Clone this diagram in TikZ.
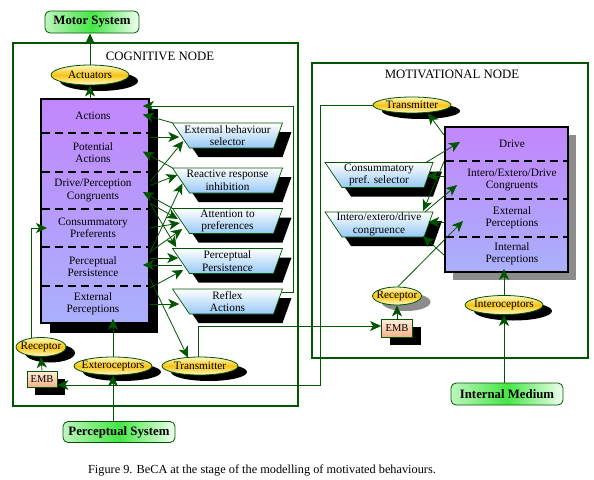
\documentclass[tikz,border=0pt]{standalone}
\usepackage{fontspec}
\setmainfont{Liberation Serif}
\usetikzlibrary{shapes.geometric,arrows.meta,shadows,calc}
\definecolor{dkgreen}{RGB}{0,85,0}
\definecolor{ptop}{RGB}{194,134,252}
\definecolor{pbot}{RGB}{170,176,252}
\definecolor{tblue}{RGB}{150,200,245}
\definecolor{ylight}{RGB}{255,250,200}
\definecolor{ydark}{RGB}{248,196,20}
\definecolor{etop}{RGB}{255,238,220}
\definecolor{ebot}{RGB}{245,178,135}
\definecolor{gleft}{RGB}{190,245,190}
\definecolor{gmid}{RGB}{70,230,70}
\definecolor{gright}{RGB}{240,255,240}
\newcommand\flab{\fontsize{11.3}{12.5}\selectfont}
\newcommand\fttl{\fontsize{12.8}{14}\selectfont}
\newcommand\zw[1]{\makebox[0pt]{#1}}
\newcommand\traprim[3]{%
  \begin{scope}[shift={(#1,#2)}]
    \fill[black] ({-#3+9},-3.5) -- ({#3+9},-3.5) -- ({#3},21.5) -- ({-#3+26},21.5) -- cycle;
    \shade[top color=white,bottom color=tblue,draw=dkgreen,line width=0.7pt]
      ({-#3},-12.5) -- ({#3},-12.5) -- ({#3-9},12.5) -- ({-#3+17},12.5) -- cycle;
  \end{scope}}
\begin{document}
\begin{tikzpicture}[x=1pt,y=-1pt,
  conn/.style={draw=dkgreen,line width=0.8pt,-{Stealth[length=11pt,width=10pt,inset=3pt]}},
  frame/.style={draw=dkgreen,line width=2pt,inner sep=0pt,anchor=north west},
  stackbox/.style={draw=black,line width=1.8pt,top color=ptop,bottom color=pbot,inner sep=0pt,anchor=north west},
  sect/.style={inner sep=0pt,align=center,font=\flab},
  sepline/.style={draw=black,line width=2pt,dash pattern=on 8pt off 5pt},
  traptext/.style={inner sep=0pt,minimum height=25pt,align=center,font=\flab},
  elli/.style={ellipse,draw=dkgreen,line width=0.8pt,top color=ylight,bottom color=ylight,middle color=ydark,inner sep=0pt,font=\flab},
  bshadow/.style={drop shadow={shadow xshift=9pt,shadow yshift=-6pt,fill=black,opacity=1}},
  gshadow/.style={drop shadow={shadow xshift=9pt,shadow yshift=-6pt,fill=black!45,opacity=1}},
  gbox/.style={rectangle,rounded corners=5pt,draw=dkgreen,line width=0.8pt,left color=gleft,right color=gright,middle color=gmid,inner sep=0pt,font=\fontsize{12.8}{14}\selectfont\bfseries},
  embbox/.style={rectangle,draw=dkgreen,line width=0.8pt,top color=etop,bottom color=ebot,inner sep=0pt,font=\fontsize{10.5}{12}\selectfont,drop shadow={shadow xshift=8pt,shadow yshift=-8pt,fill=black,opacity=1}}
]
\fill[white] (0,0) rectangle (594,479);
\useasboundingbox (0,0) rectangle (594,479);

% frames
\node[frame,minimum width=285pt,minimum height=363pt] (cogframe) at (12,42) {};
\node[frame,minimum width=276pt,minimum height=295pt] (motframe) at (311,62) {};
\node[font=\fttl] (cogtitle) at (160,56) {COGNITIVE NODE};
\node[font=\fttl] (mottitle) at (452,74) {MOTIVATIONAL NODE};

% external systems
\node[gbox,minimum width=94pt,minimum height=22pt] (motor) at (92,22) {Motor System};
\node[gbox,minimum width=112pt,minimum height=21pt] (psys) at (119,432) {Perceptual System};
\node[gbox,minimum width=112pt,minimum height=22pt] (intmed) at (507,394) {Internal Medium};

% cognitive stack
\node[stackbox,minimum width=108pt,minimum height=224pt,drop shadow={shadow xshift=9pt,shadow yshift=-10pt,fill=black,opacity=1}] (cstack) at (40,98) {};
\node[sect,minimum width=108pt,minimum height=35pt] (act) at (93,115.5) {Actions};
\node[sect,minimum width=108pt,minimum height=39pt] (pot) at (93,152.5) {Potential\\Actions};
\node[sect,minimum width=108pt,minimum height=37pt] (dpc) at (93,190.5) {Drive/Perception\\Congruents};
\node[sect,minimum width=108pt,minimum height=38pt] (cpr) at (93,228) {Consummatory\\Preferents};
\node[sect,minimum width=108pt,minimum height=39pt] (pps) at (93,266.5) {Perceptual\\Persistence};
\node[sect,minimum width=108pt,minimum height=36pt] (epc) at (93,304) {External\\Perceptions};
\foreach \s in {act,pot,dpc,cpr,pps}
  \draw[sepline] ($(cstack.west |- \s.south)+(2,0)$) -- ($(cstack.east |- \s.south)+(-2,0)$);

% motivational stack
\node[stackbox,minimum width=123pt,minimum height=145pt,drop shadow={shadow xshift=8pt,shadow yshift=-8pt,fill=black!45,opacity=1}] (mstack) at (444,126) {};
\node[sect,minimum width=110pt,minimum height=35pt] (drv) at (512,143.5) {Drive};
\node[sect,minimum width=110pt,minimum height=38pt] (iedc) at (512,180) {Intero/Extero/Drive\\Congruents};
\node[sect,minimum width=110pt,minimum height=38pt] (mep) at (512,218) {External\\Perceptions};
\node[sect,minimum width=110pt,minimum height=34pt] (mip) at (512,254) {Internal\\Perceptions};
\foreach \s in {drv,iedc,mep}
  \draw[sepline] ($(mstack.west |- \s.south)+(2,0)$) -- ($(mstack.east |- \s.south)+(-2,0)$);

% trapezoids
\traprim{227.5}{135.5}{55}
\node[traptext,minimum width=110pt] (ebs) at (227.5,135.5) {External behaviour\\selector};
\traprim{227.5}{180.5}{55}
\node[traptext,minimum width=110pt] (rri) at (227.5,180.5) {Reactive response\\inhibition};
\traprim{227.5}{221}{55}
\node[traptext,minimum width=110pt] (atp) at (227.5,221) {Attention to\\preferences};
\traprim{227.5}{261}{55}
\node[traptext,minimum width=110pt] (ppe) at (227.5,261) {Perceptual\\Persistence};
\traprim{227.5}{301.5}{55}
\node[traptext,minimum width=110pt] (rfx) at (227.5,301.5) {Reflex\\Actions};
\traprim{379}{175}{54}
\node[traptext,minimum width=108pt] (cps) at (379,175) {Consummatory\\pref. selector};
\traprim{379}{224.5}{54}
\node[traptext,minimum width=108pt] (cgc) at (379,224.5) {Intero/extero/drive\\congruence};

% ellipses
\node[elli,bshadow,minimum width=78pt,minimum height=20pt] (actu) at (90,75) {\zw{Actuators}};
\node[elli,bshadow,minimum width=76pt,minimum height=18pt] (trm1) at (200,366) {\zw{Transmitter}};
\node[elli,bshadow,minimum width=78pt,minimum height=18pt] (ext) at (113,366) {\zw{Exteroceptors}};
\node[elli,bshadow,minimum width=50pt,minimum height=19pt] (rcp1) at (41,347) {\zw{Receptor}};
\node[elli,bshadow,minimum width=78pt,minimum height=16pt] (trm2) at (412,105) {\zw{Transmitter}};
\node[elli,gshadow,minimum width=49pt,minimum height=18pt] (rcp2) at (397,296) {\zw{Receptor}};
\node[elli,bshadow,minimum width=78pt,minimum height=19pt] (inter) at (504,305) {\zw{Interoceptors}};

% EMB boxes
\node[embbox,minimum width=30pt,minimum height=16pt] (emb1) at (42,379) {EMB};
\node[embbox,minimum width=31pt,minimum height=18pt] (emb2) at (397,328) {EMB};

% vertical system connectors
\draw[conn] (actu.south |- cstack.north) -- (actu.south);
\draw[conn] (actu.north) -- (actu.north |- motor.south);
\draw[conn] ($(rcp1.north)+(-10,1)$) |- ($(cstack.west |- cpr)+(7,0)$);
\draw[conn] (emb1.north) -- (rcp1.south);
\draw[conn] (ext.north) -- ($(ext.north |- cstack.south)+(0,-5)$);
\draw[conn] (ext.south |- psys.north) -- (ext.south);
\draw[conn] (emb2.north) -- (rcp2.south);
\draw[conn] (inter.north) -- ($(inter.north |- mstack.south)+(0,-4)$);
\draw[conn] (inter.south |- intmed.north) -- (inter.south);

% long routes
\draw[conn] (trm2.west) -- ++(-52,0) |- ($(emb1.east)+(0,6)$);
\draw[conn] ($(trm1.north)+(-2,0)$) |- ($(emb2.west)+(0,-2)$);

% cognitive connectors
\draw[conn] ($(rfx.north east)+(-1,4)$) -- ++(12,0) |- ($(cstack.east |- act)+(-7,-9.5)$);
\draw[conn] (ebs.north west) -- ($(cstack.east |- act)+(-7,-1)$);
\draw[conn] ($(cstack.east |- pot)+(0,-15.5)$) -- ($(ebs.west)+(7,1.5)$);
\draw[conn] ($(cstack.east |- dpc)+(0,-8.5)$) -- ($(ebs.west)+(11,5.5)$);
\draw[conn] (rri.north west) -- ($(cstack.east |- pot)+(-7,-1)$);
\draw[conn] ($(cstack.east |- dpc)+(0,-5)$) -- ($(rri.west)+(5,-5.5)$);
\draw[conn] ($(cstack.east |- pps)+(0,-13.5)$) -- ($(rri.west)+(10,3)$);
\draw[conn] (atp.north west) -- ($(cstack.east |- dpc)+(-7,1.5)$);
\draw[conn] ($(cstack.east |- dpc)+(0,12.5)$) -- ($(atp.west)+(5.5,-2)$);
\draw[conn] (cstack.east |- cpr) -- ($(atp.west)+(7.5,2)$);
\draw[conn] ($(cstack.east |- pps)+(0,-14.5)$) -- ($(atp.west)+(10,8)$);
\draw[conn] ($(cstack.east |- dpc)+(0,12.5)$) -- ($(ppe.north west)+(4,-1)$);
\draw[conn] ($(cstack.east |- pps)+(0,-8.5)$) -- ($(ppe.west)+(6,-3)$);
\draw[conn] ($(ppe.west)+(10,4)$) -- ($(cstack.east |- pps)+(-7,-1.5)$);
\draw[conn] ($(cstack.east |- epc)+(0,-16)$) -- ($(ppe.west)+(11,9)$);
\draw[conn] (cstack.east |- epc) -- ($(rfx.west)+(7,2.5)$);
\draw[conn] ($(cstack.east |- pps)+(0,12)$) -- ($(trm1.north)+(-12,1)$);

% motivational connectors
\draw[conn] ($(mstack.west |- drv)+(0,-8.5)$) -- ($(trm2.south)+(16,0)$);
\draw[conn] ($(cps.north east)+(-7,0)$) -- ($(mstack.west |- drv)+(16,-1.5)$);
\draw[conn] ($(mstack.west |- iedc)+(0,-4)$) -- ($(cps.east)+(-6,1)$);
\draw[conn] ($(cgc.north east)+(-8,0)$) -- ($(mstack.west |- iedc)+(13,5)$);
\draw[conn] ($(mstack.west |- drv)+(0,18)$) -- ($(cgc.north east)+(-10,-1)$);
\draw[conn] ($(mstack.west |- mep)+(0,4)$) -- ($(cgc.east)+(-5,-2.5)$);
\draw[conn] ($(rcp2.north)+(1,0)$) -- ($(mstack.west |- mep)+(19,3)$);
\draw[conn] ($(mstack.west |- mip)+(0,1)$) -- ($(cgc.south east)+(-10,-1)$);

% caption
\node[font=\fontsize{12.3}{14}\selectfont] (caption) at (262,470) {Figure 9. BeCA at the stage of the modelling of motivated behaviours.};
\end{tikzpicture}
\end{document}
